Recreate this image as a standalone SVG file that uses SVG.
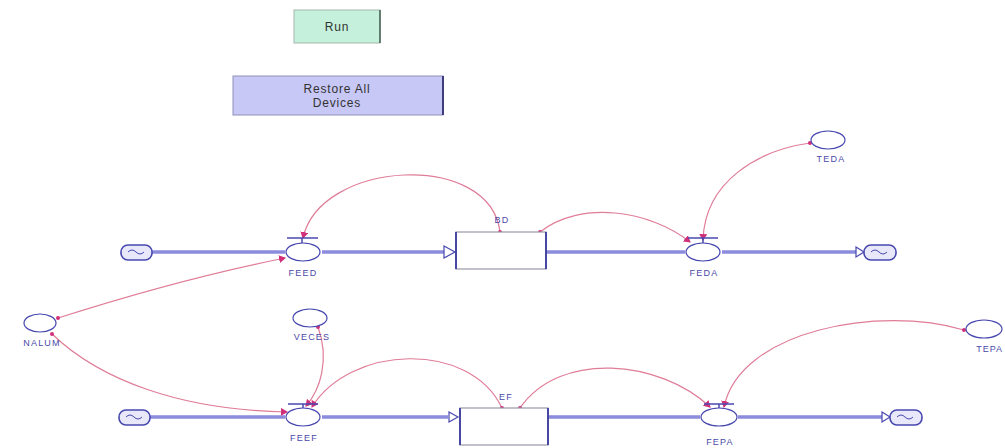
<svg xmlns="http://www.w3.org/2000/svg" width="1005" height="448" viewBox="0 0 1005 448">
<style>
.lbl{font-family:"Liberation Sans",Arial,sans-serif;font-size:9px;fill:#4a4aa8;letter-spacing:1.2px;text-anchor:middle}
.btn{font-family:"Liberation Sans",Arial,sans-serif;font-size:12px;fill:#333;letter-spacing:0.8px;text-anchor:middle}
.flow{stroke:#5050c8;stroke-width:3;fill:none}
.flowin{stroke:#c8c8f4;stroke-width:1;fill:none}
.cnx{stroke:#e07c98;stroke-width:1.2;fill:none;marker-end:url(#ah);marker-start:url(#dot)}
.aux{fill:#fff;stroke:#4848b0;stroke-width:1.2}
.stock{fill:#fff;stroke:#9898a8;stroke-width:1.2}
.stockside{stroke:#3a3aa0;stroke-width:1.8}
.cloud{fill:#e8e8fa;stroke:#4848b0;stroke-width:1.6}
</style>
<defs>
<marker id="ah" markerWidth="8" markerHeight="8" refX="6" refY="4" orient="auto" markerUnits="userSpaceOnUse">
<path d="M0,0 L7,4 L0,8 Z" fill="#d0307a"/>
</marker>
<marker id="dot" markerWidth="6" markerHeight="6" refX="3" refY="3" markerUnits="userSpaceOnUse">
<circle cx="3" cy="3" r="2" fill="#d0307a"/>
</marker>
</defs>
<rect width="1005" height="448" fill="#fff"/>

<g id="run-button">
<rect x="294" y="10" width="86" height="33" fill="#c4f0dc" stroke="#a8b8b0"/>
<line x1="380" y1="10" x2="380" y2="43" stroke="#406050" stroke-width="1.5"/>
<text class="btn" x="337" y="31">Run</text>
</g>
<g id="restore-button">
<rect x="233" y="76" width="210" height="39" fill="#c8c8f6" stroke="#9090b8"/>
<line x1="443" y1="76" x2="443" y2="115" stroke="#303070" stroke-width="1.8"/>
<text class="btn" x="337" y="93">Restore All</text>
<text class="btn" x="337" y="107">Devices</text>
</g>

<g id="flows">
<path class="flow" d="M152,252 H285 M322,252 H444"/>
<path class="flowin" d="M152,252 H285 M322,252 H444"/>
<path class="flow" d="M546,252 H685 M722,252 H856"/>
<path class="flowin" d="M546,252 H685 M722,252 H856"/>
<path class="flow" d="M150,417 H285 M322,417 H448"/>
<path class="flowin" d="M150,417 H285 M322,417 H448"/>
<path class="flow" d="M548,417 H700 M738,417 H882"/>
<path class="flowin" d="M548,417 H700 M738,417 H882"/>
<path d="M444,246 L455,252 L444,258 Z" fill="#fff" stroke="#4848b0" stroke-width="1.2"/>
<path d="M856,247 L864,252 L856,257 Z" fill="#fff" stroke="#4848b0" stroke-width="1.2"/>
<path d="M449,412 L458,417 L449,422 Z" fill="#fff" stroke="#4848b0" stroke-width="1.2"/>
<path d="M882,412 L890,417 L882,422 Z" fill="#fff" stroke="#4848b0" stroke-width="1.2"/>
</g>

<g id="connectors">
<path class="cnx" d="M500,232 C490,150 320,160 303,238"/>
<path class="cnx" d="M540,232 C580,200 650,210 690,242"/>
<path class="cnx" d="M810,143 C760,150 705,180 703,240"/>
<path class="cnx" d="M58,318 C130,295 200,275 285,258"/>
<path class="cnx" d="M52,334 C100,380 180,410 287,412"/>
<path class="cnx" d="M318,327 C330,360 320,390 306,406"/>
<path class="cnx" d="M502,408 C470,340 350,345 312,407"/>
<path class="cnx" d="M520,408 C560,350 660,360 710,407"/>
<path class="cnx" d="M964,330 C880,305 740,330 724,407"/>
</g>

<g id="cloud-feed-src"><rect class="cloud" x="121" y="245" width="31" height="15" rx="7"/><path d="M128,252 q4,-4 8,0 q4,4 8,0" stroke="#4848b0" fill="none"/></g>
<g id="cloud-feda-sink"><rect class="cloud" x="864" y="245" width="32" height="15" rx="7"/><path d="M871,252 q4,-4 8,0 q4,4 8,0" stroke="#4848b0" fill="none"/></g>
<g id="cloud-feef-src"><rect class="cloud" x="119" y="410" width="31" height="15" rx="7"/><path d="M126,417 q4,-4 8,0 q4,4 8,0" stroke="#4848b0" fill="none"/></g>
<g id="cloud-fepa-sink"><rect class="cloud" x="890" y="410" width="32" height="15" rx="7"/><path d="M897,417 q4,-4 8,0 q4,4 8,0" stroke="#4848b0" fill="none"/></g>

<g id="FEED">
<line x1="287" y1="238" x2="318" y2="238" stroke="#4848b0" stroke-width="1.5"/>
<line x1="302" y1="238" x2="302" y2="243" stroke="#4848b0" stroke-width="1.5"/>
<ellipse class="aux" cx="303" cy="252" rx="17" ry="9"/>
<text class="lbl" x="303" y="276">FEED</text>
</g>
<g id="BD">
<rect class="stock" x="456" y="232" width="90" height="37"/>
<line class="stockside" x1="456" y1="232" x2="456" y2="269"/>
<line class="stockside" x1="546" y1="232" x2="546" y2="269"/>
<text class="lbl" x="502" y="223">BD</text>
</g>
<g id="FEDA">
<line x1="688" y1="238" x2="718" y2="238" stroke="#4848b0" stroke-width="1.5"/>
<line x1="703" y1="238" x2="703" y2="243" stroke="#4848b0" stroke-width="1.5"/>
<ellipse class="aux" cx="703" cy="252" rx="17" ry="9"/>
<text class="lbl" x="704" y="276">FEDA</text>
</g>
<g id="TEDA">
<ellipse class="aux" cx="828" cy="140" rx="17" ry="9"/>
<text class="lbl" x="831" y="162">TEDA</text>
</g>
<g id="NALUM">
<ellipse class="aux" cx="40" cy="323" rx="16" ry="9"/>
<text class="lbl" x="42" y="346">NALUM</text>
</g>
<g id="VECES">
<ellipse class="aux" cx="310" cy="318" rx="17" ry="9"/>
<text class="lbl" x="312" y="340">VECES</text>
</g>
<g id="FEEF">
<line x1="288" y1="404" x2="318" y2="404" stroke="#4848b0" stroke-width="1.5"/>
<line x1="303" y1="404" x2="303" y2="409" stroke="#4848b0" stroke-width="1.5"/>
<ellipse class="aux" cx="303" cy="417" rx="17" ry="9"/>
<text class="lbl" x="304" y="441">FEEF</text>
</g>
<g id="EF">
<rect class="stock" x="460" y="408" width="88" height="37"/>
<line class="stockside" x1="460" y1="408" x2="460" y2="445"/>
<line class="stockside" x1="548" y1="408" x2="548" y2="445"/>
<text class="lbl" x="506" y="400">EF</text>
</g>
<g id="FEPA">
<line x1="704" y1="404" x2="734" y2="404" stroke="#4848b0" stroke-width="1.5"/>
<line x1="719" y1="404" x2="719" y2="409" stroke="#4848b0" stroke-width="1.5"/>
<ellipse class="aux" cx="719" cy="417" rx="18" ry="9"/>
<text class="lbl" x="720" y="445">FEPA</text>
</g>
<g id="TEPA">
<ellipse class="aux" cx="984" cy="329" rx="18" ry="9"/>
<text class="lbl" x="1003" y="352" style="text-anchor:end;letter-spacing:1px">TEPA</text>
</g>
</svg>
